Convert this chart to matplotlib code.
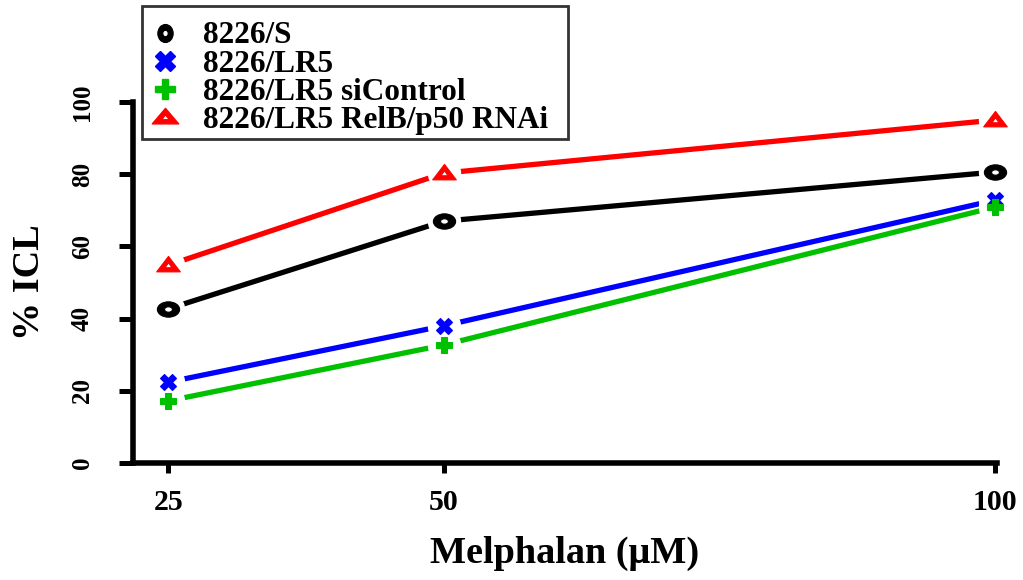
import matplotlib
matplotlib.use("Agg")
import matplotlib.pyplot as plt
from matplotlib.lines import Line2D
from matplotlib.patches import Rectangle
from matplotlib.path import Path
import numpy as np

doses = [25, 50, 100]
s_vals = [42.7, 67.0, 80.6]
lr5_vals = [22.4, 38.0, 72.8]
sictrl_vals = [17.2, 32.7, 70.9]
rnai_vals = [54.8, 80.3, 95.0]
labels = ["8226/S", "8226/LR5", "8226/LR5 siControl", "8226/LR5 RelB/p50 RNAi"]
colors = ["#000000", "#0000ff", "#00c000", "#ff0000"]
yticks = [0, 20, 40, 60, 80, 100]

plt.rcParams['font.family'] = ['Liberation Serif', 'DejaVu Serif']
plt.rcParams['font.weight'] = 'bold'

# wide ring / triangle markers (outer + inner hole)
def ring_marker(sx):
    c = Path.unit_circle()
    outer = c.vertices * [sx, 1.0]
    inner = (c.vertices * [sx * 0.35, 0.35])[::-1]
    verts = np.concatenate([outer, inner])
    codes = np.concatenate([c.codes, c.codes])
    return Path(verts, codes)

def tri_marker(sx):
    outer = np.array([[-1.0 * sx, -0.7], [1.0 * sx, -0.7], [0, 1.0], [-1.0 * sx, -0.7]])
    inner = np.array([[-0.3 * sx, -0.25], [0, 0.3], [0.3 * sx, -0.25], [-0.3 * sx, -0.25]])
    verts = np.concatenate([outer, inner])
    codes = [Path.MOVETO, Path.LINETO, Path.LINETO, Path.CLOSEPOLY] * 2
    return Path(verts, codes)

plot_markers = [ring_marker(1.45), "X", "P", tri_marker(1.3)]
plot_ms = [16, 11, 11, 17]

fig = plt.figure(figsize=(10.23, 5.8), dpi=100)
ax = fig.add_axes([133/1023, 1-463/580, (997-133)/1023, (463-102)/580])

series = [s_vals, lr5_vals, sictrl_vals, rnai_vals]
for vals, c, m, ms in zip(series, colors, plot_markers, plot_ms):
    ax.plot(doses, vals, color=c, lw=3.8, zorder=2, solid_capstyle='butt')
    ax.plot(doses, vals, ls='none', marker='o', ms=23, mfc='white', mec='white', zorder=3)
    ax.plot(doses, vals, ls='none', marker=m, ms=ms, mfc=c, mec=c, mew=0.8, zorder=4, clip_on=False)

ax.set_xlim(21.8, 100.2)
ax.set_ylim(0, 100)
ax.set_xticks(doses)
ax.set_xticklabels([str(d) for d in doses], fontsize=21.5, fontweight='bold')
ax.set_yticks(yticks)
ax.set_yticklabels([str(t) for t in yticks], fontsize=18, fontweight='bold', rotation=90, va='center')
for sp in ['top', 'right']:
    ax.spines[sp].set_visible(False)
for sp in ['left', 'bottom']:
    ax.spines[sp].set_linewidth(4)
ax.tick_params(axis='x', width=3.6, length=7, direction='out', pad=12)
ax.tick_params(axis='y', width=3.6, length=10, direction='out', pad=18)
ax.set_xlabel("Melphalan (\u03bcM)", fontsize=27.5, fontweight='bold', labelpad=14)
ax.set_ylabel("% ICL", fontsize=27.5, fontweight='bold', labelpad=17.5)

handles = [
    Line2D([], [], ls='none', marker=ring_marker(0.85), ms=13, mfc=colors[0], mec=colors[0], mew=0.8),
    Line2D([], [], ls='none', marker='X', ms=14, mfc=colors[1], mec=colors[1]),
    Line2D([], [], ls='none', marker='P', ms=14, mfc=colors[2], mec=colors[2]),
    Line2D([], [], ls='none', marker=tri_marker(1.45), ms=19, mfc=colors[3], mec=colors[3]),
]
# legend frame box
fig.patches.append(Rectangle((142/1023, 1-139/580), (568-142)/1023, (139-6)/580,
                             transform=fig.transFigure, facecolor='white',
                             edgecolor='#333333', linewidth=2, zorder=5))
leg = fig.legend(handles, labels, loc='upper left', bbox_to_anchor=(146.3/1023, 1-10.5/580),
                 frameon=False,
                 prop={'family': 'Liberation Serif', 'weight': 'bold', 'size': 22.5},
                 handletextpad=0.97, labelspacing=-0.03, borderpad=0.35, handlelength=0.5,
                 borderaxespad=0)
leg.set_zorder(6)

fig.savefig("out.png", dpi=100)
